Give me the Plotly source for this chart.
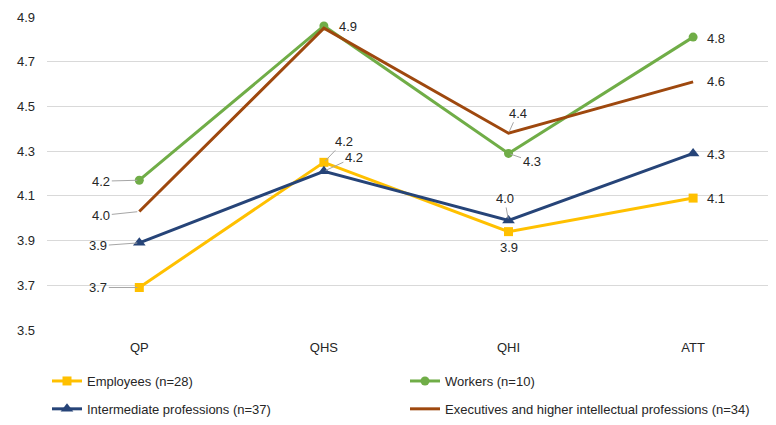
import plotly.graph_objects as go

categories = ["QP", "QHS", "QHI", "ATT"]

employees = [3.69, 4.25, 3.94, 4.09]
workers = [4.17, 4.86, 4.29, 4.81]
intermediate = [3.89, 4.21, 3.99, 4.29]
executives = [4.03, 4.85, 4.38, 4.61]

series_names = [
    "Employees (n=28)",
    "Workers (n=10)",
    "Intermediate professions (n=37)",
    "Executives and higher intellectual professions (n=34)",
]

# label offsets in px (ax, ay) and whether a leader line is drawn; None = no label
label_style = {
    "Employees (n=28)": [(-41, 0, True), (20, -21, True), (0, 16, False), (23, 0, False)],
    "Workers (n=10)": [(-38, 1, True), (24, 1, False), (23, 8, True), (23, 1, False)],
    "Intermediate professions (n=37)": [(-41, 3, True), (30, -14, True), (-4, -22, True), (23, 1, False)],
    "Executives and higher intellectual professions (n=34)": [(-38, 4, True), None, (9, -20, True), (23, 0, False)],
}

colors = ["#FFC000", "#70AD47", "#264478", "#9E480E"]
symbols = ["square", "circle", "triangle-up", None]
legends = ["legend", "legend", "legend2", "legend2"]

font = "Liberation Sans, Arial, sans-serif"

fig = go.Figure()
all_values = [employees, workers, intermediate, executives]

for name, vals, col, sym, lg in zip(series_names, all_values, colors, symbols, legends):
    if sym:
        fig.add_trace(go.Scatter(x=categories, y=vals, name=name, mode="lines+markers",
                                 line=dict(color=col, width=3),
                                 marker=dict(symbol=sym, size=9 if sym != "triangle-up" else 11, color=col),
                                 legend=lg))
    else:
        fig.add_trace(go.Scatter(x=categories, y=vals, name=name, mode="lines",
                                 line=dict(color=col, width=3), legend=lg))
    for cat, v, st in zip(categories, vals, label_style[name]):
        if st is None:
            continue
        ax, ay, leader = st
        fig.add_annotation(x=cat, y=v, text=f"{v:.1f}", showarrow=True,
                           ax=ax, ay=ay, arrowhead=0, arrowwidth=1, standoff=2,
                           arrowcolor="#A6A6A6" if leader else "rgba(0,0,0,0)",
                           font=dict(family=font, size=13, color="#262626"))

# page body has an 8px margin, so margins are trimmed to compensate
fig.update_layout(
    width=776, height=425,
    margin=dict(l=39, r=8, t=9, b=103),
    plot_bgcolor="white", paper_bgcolor="white",
    font=dict(family=font, size=13, color="#262626"),
    xaxis=dict(type="category", range=[-0.5, 3.449], showgrid=False, showline=False,
               zeroline=False, ticks="", ticklabelstandoff=8, automargin=False),
    yaxis=dict(range=[3.5, 4.9], dtick=0.2, tick0=3.5, tickformat=".1f",
               gridcolor="#D9D9D9", gridwidth=1, zeroline=False, showline=False,
               ticks="", ticklabelstandoff=11, automargin=False),
    legend=dict(orientation="h", x=0.0, xanchor="left", y=-0.163, yanchor="middle",
                entrywidth=313, entrywidthmode="pixels", font=dict(size=13)),
    legend2=dict(orientation="h", x=0.0, xanchor="left", y=-0.252, yanchor="middle",
                 entrywidth=313, entrywidthmode="pixels", font=dict(size=13)),
    showlegend=True,
)

fig.write_html("out.html")
